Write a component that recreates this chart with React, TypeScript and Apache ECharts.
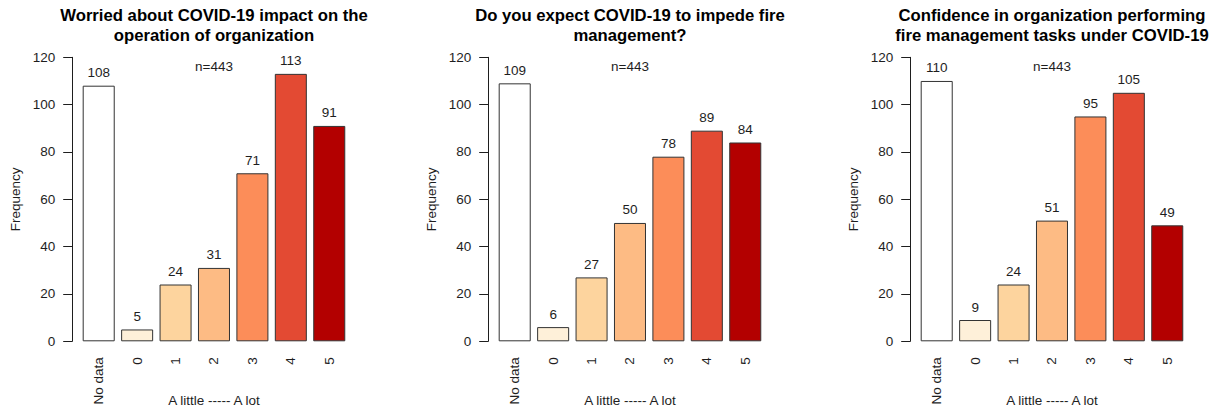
import React, { useEffect, useRef } from "react";
import * as echarts from "echarts";

const CATEGORIES = ["No data", "0", "1", "2", "3", "4", "5"];
const WORRIED = [108, 5, 24, 31, 71, 113, 91];
const IMPEDE = [109, 6, 27, 50, 78, 89, 84];
const CONFIDENCE = [110, 9, 24, 51, 95, 105, 49];
const PANEL_VALUES = [WORRIED, IMPEDE, CONFIDENCE];
const BAR_COLORS = ["#FFFFFF", "#FEF0D9", "#FDD49E", "#FDBB84", "#FC8D59", "#E34A33", "#B30000"];
const TITLES = [
  "Worried about COVID-19 impact on the\noperation of organization",
  "Do you expect COVID-19 to impede fire\nmanagement?",
  "Confidence in organization performing\nfire management tasks under COVID-19",
];
const N_LABEL = "n=443";
const Y_NAME = "Frequency";
const X_NAME = "A little ----- A lot";
const Y_MIN = 0;
const Y_MAX = 120;
const Y_INTERVAL = 20;

const FONT = "'Liberation Sans', Arial, sans-serif";
const TEXT = "#1e1e1e";

export default function App() {
  const ref = useRef<HTMLDivElement>(null);
  useEffect(() => {
    if (!ref.current) return;
    const chart = echarts.init(ref.current, null, { renderer: "svg" });
    const plotLefts = [72.2, 488.2, 910.2];
    const unit = 32.02;
    const top = 57.3;
    const height = 284;
    const grids: any[] = [];
    const xAxes: any[] = [];
    const yAxes: any[] = [];
    const series: any[] = [];
    const titles: any[] = [];
    const graphics: any[] = [];
    PANEL_VALUES.forEach((vals, i) => {
      const pl = plotLefts[i];
      const gridLeft = pl + 0.228 * unit;
      const gridWidth = 8.4 * unit;
      const center = pl + 8.856 * unit / 2;
      grids.push({
        left: gridLeft,
        top,
        width: gridWidth,
        height,
        containLabel: false,
        outerBoundsMode: "none",
      });
      xAxes.push({
        type: "category",
        gridIndex: i,
        data: CATEGORIES,
        axisLine: { show: false },
        axisTick: { show: false },
        axisLabel: { rotate: 90, margin: 16, color: TEXT, fontSize: 13.5, fontFamily: FONT },
        name: X_NAME,
        nameLocation: "middle",
        nameGap: 52,
        nameMoveOverlap: false,
        nameTextStyle: { color: TEXT, fontSize: 13.5, fontFamily: FONT },
      });
      yAxes.push({
        type: "value",
        gridIndex: i,
        min: Y_MIN,
        max: Y_MAX,
        interval: Y_INTERVAL,
        offset: 0.228 * unit,
        splitLine: { show: false },
        axisLine: { show: true, lineStyle: { color: TEXT, width: 1 } },
        axisTick: { show: true, length: 9, lineStyle: { color: TEXT, width: 1 } },
        axisLabel: { margin: 17, color: TEXT, fontSize: 13.5, fontFamily: FONT },
        name: Y_NAME,
        nameLocation: "middle",
        nameGap: 50,
        nameMoveOverlap: false,
        nameTextStyle: { color: TEXT, fontSize: 13.5, fontFamily: FONT },
      });
      series.push({
        type: "bar",
        xAxisIndex: i,
        yAxisIndex: i,
        barWidth: unit,
        data: vals.map((v, j) => ({
          value: v,
          itemStyle: { color: BAR_COLORS[j], borderColor: "#333333", borderWidth: 1 },
        })),
        label: {
          show: true,
          position: "top",
          distance: 6,
          color: TEXT,
          fontSize: 13.5,
          fontFamily: FONT,
        },
      });
      titles.push({
        text: TITLES[i],
        left: center,
        top: 6,
        textAlign: "center",
        padding: 0,
        textStyle: {
          color: "#000",
          fontSize: 16.7,
          fontWeight: "bold",
          fontFamily: FONT,
          lineHeight: 19.5,
        },
      });
      graphics.push({
        type: "text",
        x: center,
        y: 66.7,
        style: {
          text: N_LABEL,
          fill: TEXT,
          fontSize: 13.5,
          fontFamily: FONT,
          textAlign: "center",
          textVerticalAlign: "middle",
        },
      });
    });
    chart.setOption({
      animation: false,
      backgroundColor: "#ffffff",
      title: titles,
      grid: grids,
      xAxis: xAxes,
      yAxis: yAxes,
      series,
      graphic: graphics,
    });
    return () => chart.dispose();
  }, []);
  return (
    <div
      ref={ref}
      style={{ position: "absolute", left: 0, top: 0, width: 1216, height: 411 }}
    />
  );
}
